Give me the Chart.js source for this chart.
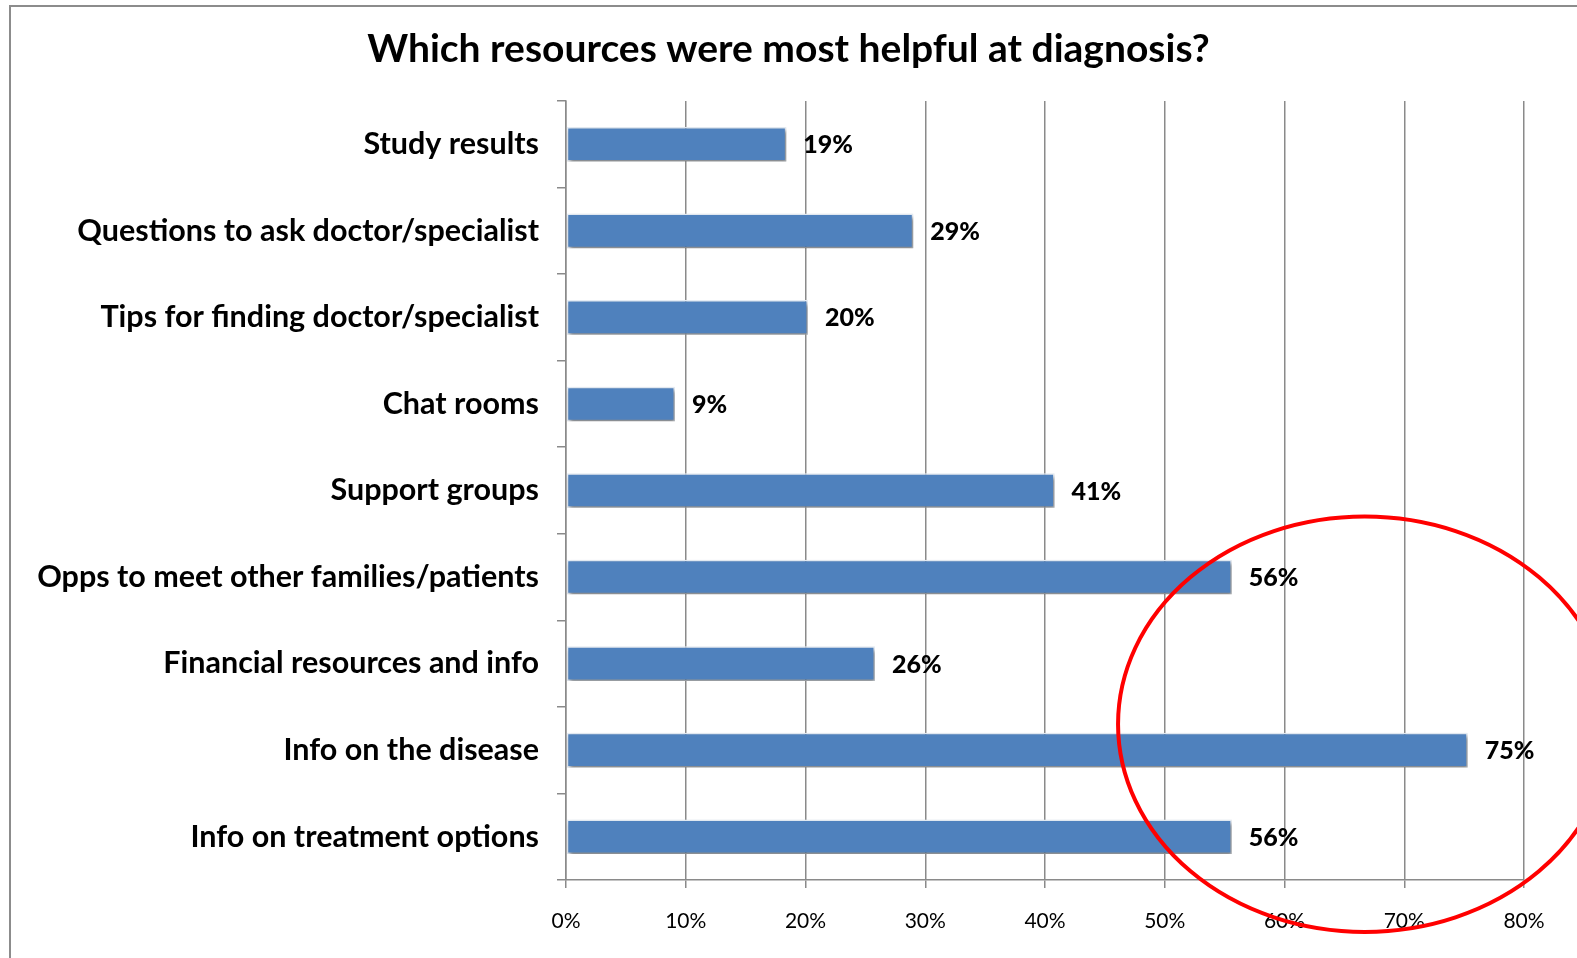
<!DOCTYPE html>
<html>
<head>
<meta charset="utf-8">
<script src="https://cdn.jsdelivr.net/npm/chart.js@4"></script>
<style>
  html, body { margin: 0; padding: 0; background: #fff; }
  #wrap { width: 1577px; height: 958px; }
</style>
</head>
<body>
<div id="wrap"><canvas id="myChart"></canvas></div>
<script>
// Datos del gráfico
var titulo = "Which resources were most helpful at diagnosis?";
var categorias = [
    "Study results",
    "Questions to ask doctor/specialist",
    "Tips for finding doctor/specialist",
    "Chat rooms",
    "Support groups",
    "Opps to meet other families/patients",
    "Financial resources and info",
    "Info on the disease",
    "Info on treatment options"
];
var valores = [18.4, 29.0, 20.2, 9.1, 40.8, 55.6, 25.8, 75.3, 55.6];
var etiquetasValores = ["19%", "29%", "20%", "9%", "41%", "56%", "26%", "75%", "56%"];
var ticksX = ["0%", "10%", "20%", "30%", "40%", "50%", "60%", "70%", "80%"];

var fuente = "Lato, 'Open Sans', sans-serif";
var gris = "#8a8a8a";

// Marco exterior y título centrado en todo el lienzo
var marcoPlugin = {
    id: "marco",
    beforeDraw: function (chart) {
        var c = chart.ctx;
        c.save();
        c.fillStyle = "#ffffff";
        c.fillRect(0, 0, chart.width, chart.height);
        c.strokeStyle = "#8c8c8c";
        c.lineWidth = 2;
        c.beginPath();
        c.moveTo(10, chart.height);
        c.lineTo(10, 6);
        c.lineTo(chart.width, 6);
        c.stroke();
        c.font = "bold 39px " + fuente;
        c.fillStyle = "#000";
        c.textAlign = "center";
        c.textBaseline = "middle";
        c.fillText(titulo, chart.width / 2, 49);
        c.restore();
    }
};

// Sombra de las barras
var sombraPlugin = {
    id: "sombra",
    beforeDatasetsDraw: function (chart) {
        var c = chart.ctx;
        c.save();
        c.shadowColor = "rgba(0,0,0,0.45)";
        c.shadowBlur = 4;
        c.shadowOffsetX = 2;
        c.shadowOffsetY = 3;
    },
    afterDatasetsDraw: function (chart) {
        chart.ctx.restore();
    }
};

// Etiquetas de valor junto a cada barra
var etiquetasPlugin = {
    id: "etiquetas",
    afterDatasetsDraw: function (chart) {
        var c = chart.ctx;
        var meta = chart.getDatasetMeta(0);
        c.save();
        c.font = "900 25px " + fuente;
        c.fillStyle = "#000";
        c.textAlign = "left";
        c.textBaseline = "middle";
        meta.data.forEach(function (bar, i) {
            c.fillText(etiquetasValores[i], bar.x + 17, bar.y + 1);
        });
        c.restore();
    }
};

// Elipse roja de resaltado (en coordenadas de las escalas)
var elipsePlugin = {
    id: "elipse",
    afterDraw: function (chart) {
        var sx = chart.scales.x, sy = chart.scales.y;
        var cx = sx.getPixelForValue(66.7);
        var rx = sx.getPixelForValue(66.7) - sx.getPixelForValue(46.1);
        var cy = sy.getPixelForValue(6.7);
        var ry = sy.getPixelForValue(6.7) - sy.getPixelForValue(4.3);
        var c = chart.ctx;
        c.save();
        c.strokeStyle = "#ff0000";
        c.lineWidth = 4;
        c.beginPath();
        c.ellipse(cx, cy, rx, ry, 0, 0, Math.PI * 2);
        c.stroke();
        c.restore();
    }
};

var ctx = document.getElementById("myChart").getContext("2d");
var myChart = new Chart(ctx, {
    type: "bar",
    data: {
        labels: categorias,
        datasets: [{
            data: valores,
            backgroundColor: "#4f81bd",
            borderColor: "#e6edf5",
            borderWidth: 1.5,
            borderSkipped: false,
            categoryPercentage: 0.4,
            barPercentage: 1
        }]
    },
    plugins: [marcoPlugin, sombraPlugin, etiquetasPlugin, elipsePlugin],
    options: {
        indexAxis: "y",
        responsive: true,
        maintainAspectRatio: false,
        animation: false,
        layout: { padding: { left: 10, right: 53, top: 101, bottom: 0 } },
        plugins: {
            legend: { display: false },
            tooltip: { enabled: false },
            title: { display: false }
        },
        scales: {
            x: {
                min: 0,
                max: 80,
                ticks: {
                    stepSize: 10,
                    color: "#000",
                    font: { family: fuente, size: 21 },
                    padding: 21,
                    callback: function (v, i) { return ticksX[i]; }
                },
                grid: { color: gris, lineWidth: 1.5, tickLength: 8 },
                border: { color: gris, width: 1.5 },
                afterFit: function (scale) { scale.height = 78; }
            },
            y: {
                ticks: {
                    color: "#000",
                    font: { family: fuente, size: 30.5, weight: "bold" },
                    padding: 18
                },
                grid: { color: gris, lineWidth: 1.5, drawOnChartArea: false, tickLength: 9, offset: true },
                border: { color: gris, width: 1.5 },
                afterFit: function (scale) { scale.width = 556; }
            }
        }
    }
});
</script>
</body>
</html>
